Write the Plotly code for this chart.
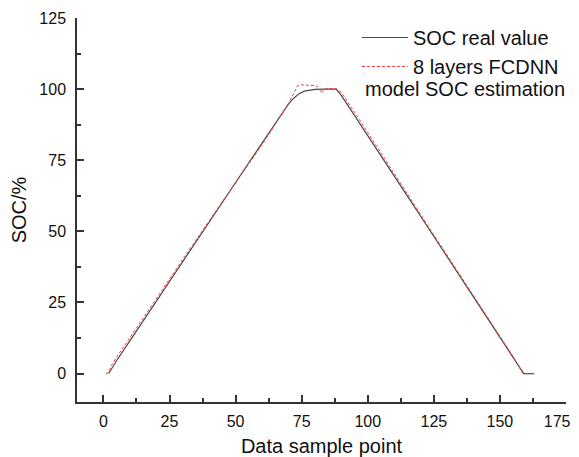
import plotly.graph_objects as go

# Real SOC values
real_x = [2, 5, 10, 15, 20, 25, 30, 35, 40, 45, 50, 55, 60, 65, 68, 70, 72, 74, 76, 78, 80, 84, 88,
          90, 95, 100, 105, 110, 115, 120, 125, 130, 135, 140, 145, 150, 155, 159, 163]
real_y = [0, 4.6, 11.5, 18.5, 25.4, 32.4, 39.3, 46.3, 53.2, 60.2, 67.1, 74.1, 81.0, 88.0, 92.2, 94.7,
          96.8, 98.4, 99.3, 99.7, 99.9, 100, 100, 97.8, 90.8, 83.7, 76.6, 69.5, 62.4, 55.3, 48.2, 41.1,
          34.0, 26.9, 19.8, 12.7, 5.6, 0, 0]

# 8 layers FCDNN estimation
est_x = [1, 2, 3, 5, 10, 15, 20, 25, 30, 35, 38, 40, 45, 50, 55, 60, 65, 68, 70, 72, 73.5, 75, 78,
         80.5, 81.5, 82.5, 83.5, 85, 88, 89, 90, 95, 100, 105, 110, 115, 120, 125, 130, 135, 140,
         145, 150, 155, 158.5, 160, 163]
est_y = [0, 0.3, 2.8, 5.8, 12.6, 19.6, 26.3, 33.2, 40.1, 46.9, 51.2, 53.8, 60.5, 67.0, 73.6, 80.4,
         87.6, 92.0, 95.0, 98.5, 101.2, 101.5, 101.4, 101.2, 100.3, 98.6, 100.0, 100.2, 100.2, 99.6,
         98.8, 91.9, 84.8, 77.6, 70.4, 63.2, 55.9, 48.8, 41.6, 34.3, 27.2, 20.2, 13.2, 6.0, 0.3, 0, 0]

x_ticks = [0, 25, 50, 75, 100, 125, 150, 175]
x_ticktext = ["0", "25", "50", "75", "100", "125", "150", "175\u00a0\u00a0\u00a0\u00a0"]
y_ticks = [0, 25, 50, 75, 100, 125]

FONT = "Arial, Liberation Sans, sans-serif"

fig = go.Figure()
fig.add_trace(go.Scatter(x=real_x, y=real_y, mode="lines", name="SOC real value",
                         line=dict(color="#4a4a4a", width=1.2)))
fig.add_trace(go.Scatter(x=est_x, y=est_y, mode="lines", name="8 layers FCDNN",
                         line=dict(color="#ff3b3b", width=1, dash="3px,2px")))

axis_common = dict(showline=True, linecolor="#333333", linewidth=1.5, ticks="inside",
                   ticklen=7, tickwidth=1.5, tickcolor="#333333", showgrid=False, zeroline=False,
                   mirror=False, automargin=False, ticklabeloverflow="allow",
                   tickfont=dict(size=16, color="#111111", family=FONT),
                   minor=dict(ticks="inside", ticklen=4, tickwidth=1.5, tickcolor="#333333",
                              dtick=12.5, showgrid=False))

fig.update_xaxes(range=[-10, 175], tickvals=x_ticks, ticktext=x_ticktext,
                 ticklabelstandoff=4,
                 title=dict(text="Data sample point", font=dict(size=20, family=FONT, color="#111111"),
                            standoff=10),
                 **axis_common)
fig.update_yaxes(range=[-10, 125], tickvals=y_ticks, ticktext=[str(v) for v in y_ticks],
                 ticklabelstandoff=6,
                 title=dict(text="SOC/%", font=dict(size=20, family=FONT, color="#111111"),
                            standoff=10),
                 **axis_common)

# The page body adds an 8px offset, so the figure is sized 8px smaller.
fig.update_layout(
    width=571, height=449,
    margin=dict(l=69, r=13, t=10, b=55),
    paper_bgcolor="white", plot_bgcolor="white",
    font=dict(family=FONT, color="#111111"),
    legend=dict(x=0.5725, y=1.0, xanchor="left", yanchor="top", bgcolor="rgba(0,0,0,0)",
                font=dict(size=20, family=FONT, color="#111111"), tracegroupgap=0,
                itemwidth=46),
    annotations=[dict(text="model SOC estimation", xref="paper", yref="paper",
                      x=0.585, y=0.815, xanchor="left", yanchor="middle", showarrow=False,
                      font=dict(size=20, family=FONT, color="#111111"))],
)

fig.write_html("out.html")
